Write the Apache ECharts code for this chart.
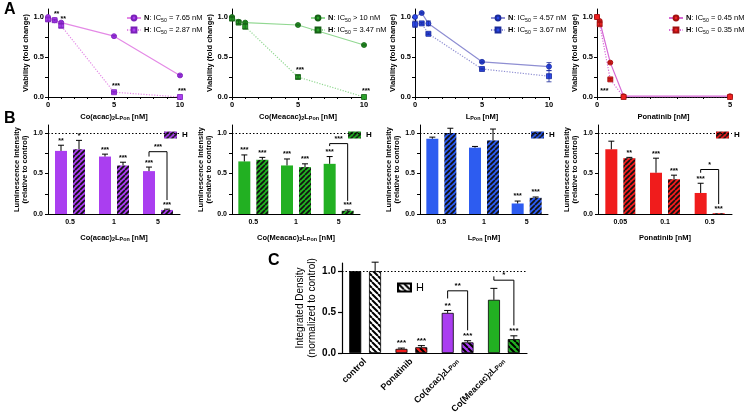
<!DOCTYPE html>
<html><head><meta charset="utf-8">
<script src="https://cdn.jsdelivr.net/npm/echarts@6/dist/echarts.min.js"></script>
<style>html,body{margin:0;padding:0;background:#fff}#c{width:754px;height:417px}</style>
</head><body><div id="c"></div>
<script>
// ================= DATA =================
// Panel A (viability curves)
const A1_x = [0, 0.5, 1, 5, 10];
const A1_N = [1.00, 0.96, 0.93, 0.76, 0.27];
const A1_H = [0.97, 0.96, 0.89, 0.06, 0.00];
const A1_Nerr = [0, 0, 0.01, 0.01, 0.01];
const A1_Herr = [0.02, 0.01, 0.02, 0.01, 0];
const A1_stars = ['', '**', '**', '***', '***'];
const A1_ic = ['= 7.65 nM', '= 2.87 nM'];

const A2_x = [0, 0.5, 1, 5, 10];
const A2_N = [1.00, 0.94, 0.93, 0.90, 0.65];
const A2_H = [0.98, 0.93, 0.88, 0.25, 0.00];
const A2_Nerr = [0.01, 0.02, 0.01, 0.01, 0.01];
const A2_Herr = [0.02, 0.02, 0.03, 0.02, 0];
const A2_stars = ['', '', '', '***', '***'];
const A2_ic = ['> 10 nM', '= 3.47 nM'];

const A3_x = [0, 0.5, 1, 5, 10];
const A3_N = [1.00, 1.05, 0.92, 0.44, 0.38];
const A3_H = [0.91, 0.92, 0.79, 0.35, 0.26];
const A3_Nerr = [0, 0.01, 0.03, 0.01, 0.05];
const A3_Herr = [0.04, 0.01, 0.01, 0.01, 0.07];
const A3_stars = ['', '', '', '', ''];
const A3_ic = ['= 4.57 nM', '= 3.67 nM'];

const A4_x = [0, 0.1, 0.5, 1, 5];
const A4_N = [1.00, 0.95, 0.43, 0.01, 0.01];
const A4_H = [1.00, 0.91, 0.22, 0.00, 0.00];
const A4_Nerr = [0, 0.01, 0.01, 0, 0];
const A4_Herr = [0, 0.02, 0.01, 0, 0];
const A4_stars = ['', '', '***', '', ''];
const A4_ic = ['= 0.45 nM', '= 0.35 nM'];

// Panel B (luminescence bars)
const B1_cats = ['0.5', '1', '5'];
const B1_N = [0.78, 0.71, 0.53];   const B1_Nerr = [0.07, 0.03, 0.05];
const B1_H = [0.80, 0.60, 0.05];   const B1_Herr = [0.11, 0.04, 0.01];
const B1_Nstars = ['**', '***', '***'];  const B1_Hstars = ['*', '***', '***'];
const B1_brackets = [{cat: 2, top: 0.77, label: '***'}];

const B2_cats = ['0.5', '1', '5'];
const B2_N = [0.65, 0.60, 0.62];   const B2_Nerr = [0.08, 0.08, 0.09];
const B2_H = [0.67, 0.58, 0.04];   const B2_Herr = [0.03, 0.04, 0.01];
const B2_Nstars = ['***', '***', '***'];  const B2_Hstars = ['***', '***', '***'];
const B2_brackets = [{cat: 2, top: 0.87, label: '***'}];

const B3_cats = ['0.5', '1', '5'];
const B3_N = [0.93, 0.82, 0.13];   const B3_Nerr = [0.02, 0.015, 0.03];
const B3_H = [1.00, 0.91, 0.20];   const B3_Herr = [0.06, 0.14, 0.01];
const B3_Nstars = ['', '', '***'];  const B3_Hstars = ['', '', '***'];
const B3_brackets = [];

const B4_cats = ['0.05', '0.1', '0.5'];
const B4_N = [0.80, 0.51, 0.26];   const B4_Nerr = [0.10, 0.18, 0.12];
const B4_H = [0.69, 0.43, 0.01];   const B4_Herr = [0.01, 0.05, 0];
const B4_Nstars = ['', '***', '***'];  const B4_Hstars = ['**', '***', '***'];
const B4_brackets = [{cat: 2, top: 0.55, label: '*'}];

// Panel C (integrated density)
const C_cats = ['control', 'Ponatinib', 'Co(acac){s|2}L{s|Pon}', 'Co(Meacac){s|2}L{s|Pon}'];
const C_N = [1.00, 0.05, 0.49, 0.65];  const C_Nerr = [0, 0.01, 0.03, 0.14];
const C_H = [1.00, 0.07, 0.13, 0.17];  const C_Herr = [0.11, 0.02, 0.02, 0.04];
const C_Nstars = ['', '***', '**', ''];  const C_Hstars = ['', '***', '***', '***'];
const C_brackets = [{cat: 2, top: 0.76, label: '**'}, {cat: 3, top: 0.89, label: '*'}];

// ================= STYLE / BUILD =================
const FONT = '"Liberation Sans", Arial, Helvetica, sans-serif';
const VIOLET = '#aa3ef0', GREEN = '#22b022', BLUE = '#2d5cf0', RED = '#f01c1c';

function hatch(base, stripe, dir, s, lw) {
  const c = document.createElement('canvas'); c.width = s; c.height = s;
  const g = c.getContext('2d');
  g.fillStyle = base; g.fillRect(0, 0, s, s);
  g.strokeStyle = stripe; g.lineWidth = lw; g.beginPath();
  for (let k = -1; k <= 1; k++) {
    if (dir > 0) { g.moveTo(k * s, s); g.lineTo(k * s + s, 0); }
    else { g.moveTo(k * s, 0); g.lineTo(k * s + s, s); }
  }
  g.stroke();
  return {image: c, repeat: 'repeat'};
}

const grid = [], xAxis = [], yAxis = [], series = [], legend = [], graphic = [];
const tx = (size, bold) => ({fontFamily: FONT, fontSize: size, fontWeight: bold ? 'bold' : 'normal', color: '#000'});
const subRich = (size) => ({s: {fontFamily: FONT, fontSize: size * 0.72, fontWeight: 'bold', color: '#000', verticalAlign: 'bottom', lineHeight: size * 0.8}});
const zip = (a, b) => a.map((v, i) => [v, b[i]]);

function addA(cfg) {
  const g = grid.length;
  grid.push({left: cfg.left, top: 9, width: cfg.width, height: 88});
  xAxis.push({gridIndex: g, type: 'value', min: 0, max: cfg.xmax, interval: 5,
    axisLine: {lineStyle: {color: '#000', width: 1}}, axisTick: {length: 3, lineStyle: {color: '#000'}},
    minorTick: {show: true, splitNumber: 5, length: 2, lineStyle: {color: '#000'}},
    splitLine: {show: false}, minorSplitLine: {show: false},
    axisLabel: Object.assign(tx(7.5, true), {margin: 4}),
    name: cfg.xName, nameLocation: 'middle', nameGap: 15,
    nameTextStyle: Object.assign(tx(7.5, true), {rich: subRich(7.5), lineHeight: 9})});
  yAxis.push({gridIndex: g, type: 'value', min: 0, max: 1.1,
    axisLine: {show: true, lineStyle: {color: '#000', width: 1}},
    axisTick: {show: true, length: 3, customValues: [0, 0.25, 0.5, 0.75, 1], lineStyle: {color: '#000'}},
    splitLine: {show: false},
    axisLabel: Object.assign(tx(7.5, true), {margin: 4, customValues: [0, 0.5, 1], formatter: v => v.toFixed(1)}),
    name: 'Viability (fold change)', nameLocation: 'middle', nameGap: 13,
    nameTextStyle: tx(7.5, true)});
  const nName = 'A' + g + 'N', hName = 'A' + g + 'H';
  series.push({type: 'line', name: nName, xAxisIndex: g, yAxisIndex: g, data: zip(cfg.x, cfg.N),
    symbol: 'circle', symbolSize: 5, z: 3,
    lineStyle: {color: cfg.line, width: 1.2},
    itemStyle: {color: cfg.mark, borderColor: cfg.border, borderWidth: 0.8}});
  series.push({type: 'line', name: hName, xAxisIndex: g, yAxisIndex: g, data: zip(cfg.x, cfg.H),
    symbol: 'rect', symbolSize: 5, z: 3,
    lineStyle: {color: cfg.line, width: 1.2, type: [1.2, 1.5]},
    itemStyle: {color: cfg.mark, borderColor: cfg.border, borderWidth: 0.8}});
  // error bars + stars
  const data = [];
  cfg.x.forEach((xv, i) => { data.push([xv, cfg.N[i], cfg.Nerr[i], 0, i]); data.push([xv, cfg.H[i], cfg.Herr[i], 1, i]); });
  series.push({type: 'custom', xAxisIndex: g, yAxisIndex: g, z: 4, silent: true, data, encode: {x: 0, y: 1},
    renderItem(p, api) {
      const xv = api.value(0), v = api.value(1), e = api.value(2), side = api.value(3), idx = api.value(4);
      const c = api.coord([xv, v]), hi = api.coord([xv, v + e]), lo = api.coord([xv, Math.max(0, v - e)]);
      const ch = [];
      if (e > 0) {
        ch.push({type: 'line', shape: {x1: c[0], y1: lo[1], x2: c[0], y2: hi[1]}, style: {stroke: cfg.border, lineWidth: 0.8}});
        ch.push({type: 'line', shape: {x1: c[0] - 2.5, y1: hi[1], x2: c[0] + 2.5, y2: hi[1]}, style: {stroke: cfg.border, lineWidth: 0.8}});
        ch.push({type: 'line', shape: {x1: c[0] - 2.5, y1: lo[1], x2: c[0] + 2.5, y2: lo[1]}, style: {stroke: cfg.border, lineWidth: 0.8}});
      }
      const s = side === 1 ? cfg.stars[idx] : '';
      if (s) {
        ch.push({type: 'text', x: c[0] + (cfg.below ? -6 : 2), y: cfg.below ? c[1] + 8 : hi[1] - 2,
          style: {text: s, fontFamily: FONT, fontSize: 7, fontWeight: 'bold', fill: '#000', align: 'center', verticalAlign: cfg.below ? 'top' : 'bottom'}});
      }
      return {type: 'group', children: ch};
    }});
  legend.push({left: cfg.legendLeft, top: 8, orient: 'vertical', itemGap: 2, itemWidth: 14, itemHeight: 6,
    data: [nName, hName], selectedMode: false,
    formatter: n => (n === nName ? '{b|N}: IC{s|50} ' + cfg.ic[0] : '{b|H}: IC{s|50} ' + cfg.ic[1]),
    textStyle: Object.assign(tx(7.5, false), {padding: [0, 0, 0, -2], lineHeight: 10,
      rich: {b: tx(7.5, true), s: {fontFamily: FONT, fontSize: 5.2, color: '#000', verticalAlign: 'bottom', lineHeight: 6}}})});
}

function barDecor(g, d, off, starSize, capW) {
  const data = [];
  d.N.forEach((v, i) => data.push([i, v, d.Nerr[i], 0]));
  d.H.forEach((v, i) => data.push([i, v, d.Herr[i], 1]));
  return {type: 'custom', xAxisIndex: g, yAxisIndex: g, z: 5, silent: true, data, encode: {x: 0, y: 1},
    renderItem(p, api) {
      const cat = api.value(0), v = api.value(1), e = api.value(2), side = api.value(3);
      const base = api.coord([cat, v]), top = api.coord([cat, v + e]);
      const x = base[0] + (side ? off : -off);
      const ch = [];
      if (e > 0) {
        ch.push({type: 'line', shape: {x1: x, y1: base[1], x2: x, y2: top[1]}, style: {stroke: '#000', lineWidth: 1}});
        ch.push({type: 'line', shape: {x1: x - capW, y1: top[1], x2: x + capW, y2: top[1]}, style: {stroke: '#000', lineWidth: 1}});
      }
      const s = (side ? d.Hstars : d.Nstars)[cat];
      if (s) ch.push({type: 'text', x: x, y: top[1] - 1,
        style: {text: s, fontFamily: FONT, fontSize: starSize, fontWeight: 'bold', fill: '#000', align: 'center', verticalAlign: 'bottom'}});
      if (side === 1) {
        d.brackets.filter(b => b.cat === cat).forEach(b => {
          const xl = x - 2 * off, xr = x;
          const nTop = api.coord([cat, d.N[cat] + d.Nerr[cat]])[1];
          const yt = api.coord([cat, b.top])[1];
          const yl = nTop - starSize * 1.5, yr = top[1] - starSize * 1.3;
          ch.push({type: 'polyline', shape: {points: [[xl, yl], [xl, yt], [xr, yt], [xr, yr]]}, style: {stroke: '#000', lineWidth: 1, fill: null}});
          ch.push({type: 'text', x: (xl + xr) / 2, y: yt - 1,
            style: {text: b.label, fontFamily: FONT, fontSize: starSize, fontWeight: 'bold', fill: '#000', align: 'center', verticalAlign: 'bottom'}});
        });
      }
      return {type: 'group', children: ch};
    }};
}

function addB(cfg) {
  const g = grid.length;
  grid.push({left: cfg.left, top: 125, width: cfg.width, height: 89});
  xAxis.push({gridIndex: g, type: 'category', data: cfg.d.cats,
    axisLine: {lineStyle: {color: '#000', width: 1}}, axisTick: {alignWithLabel: true, length: 3, lineStyle: {color: '#000'}},
    axisLabel: Object.assign(tx(7, true), {margin: 5}),
    name: cfg.xName, nameLocation: 'middle', nameGap: 19,
    nameTextStyle: Object.assign(tx(7.5, true), {rich: subRich(7.5), lineHeight: 9})});
  yAxis.push({gridIndex: g, type: 'value', min: 0, max: 1.1,
    axisLine: {show: true, lineStyle: {color: '#000', width: 1}},
    axisTick: {show: true, length: 3, customValues: [0, 0.25, 0.5, 0.75, 1], lineStyle: {color: '#000'}},
    splitLine: {show: false},
    axisLabel: Object.assign(tx(7, true), {margin: 5, customValues: [0, 0.5, 1], formatter: v => v.toFixed(1)}),
    name: 'Luminescence Intensity\n(relative to control)', nameLocation: 'middle', nameGap: 19,
    nameTextStyle: Object.assign(tx(7.5, true), {lineHeight: 8})});
  const hName = 'B' + g + 'H';
  series.push({type: 'bar', name: 'B' + g + 'N', xAxisIndex: g, yAxisIndex: g, data: cfg.d.N, barWidth: 12, barGap: '50%',
    itemStyle: {color: cfg.color},
    markLine: {silent: true, symbol: 'none', animation: false, label: {show: false},
      lineStyle: {type: [1.5, 2], color: '#000', width: 1}, data: [{yAxis: 1}]}});
  series.push({type: 'bar', name: hName, xAxisIndex: g, yAxisIndex: g, data: cfg.d.H, barWidth: 12, barGap: '50%',
    itemStyle: {color: hatch(cfg.color, '#111', 1, 5, 1.7)}});
  series.push(barDecor(g, cfg.d, 9, 7, 3));
  legend.push({left: cfg.legendLeft, top: 126, itemWidth: 13, itemHeight: 7, itemGap: 2, data: [hName], selectedMode: false,
    icon: 'rect', formatter: () => 'H', textStyle: Object.assign(tx(8, true), {padding: [0, 0, 0, 0]})});
}

addA({left: 48, width: 132, xmax: 10, xName: 'Co(acac){s|2}L{s|Pon} [nM]', x: A1_x, N: A1_N, H: A1_H, Nerr: A1_Nerr, Herr: A1_Herr,
  stars: A1_stars, ic: A1_ic, line: '#e48ae6', mark: VIOLET, border: '#7a20b8', legendLeft: 121});
addA({left: 232, width: 132, xmax: 10, xName: 'Co(Meacac){s|2}L{s|Pon} [nM]', x: A2_x, N: A2_N, H: A2_H, Nerr: A2_Nerr, Herr: A2_Herr,
  stars: A2_stars, ic: A2_ic, line: '#92d892', mark: '#2aa02a', border: '#156015', legendLeft: 305});
addA({left: 415, width: 134, xmax: 10, xName: 'L{s|Pon} [nM]', x: A3_x, N: A3_N, H: A3_H, Nerr: A3_Nerr, Herr: A3_Herr,
  stars: A3_stars, ic: A3_ic, line: '#8e8ed2', mark: '#2c4ae8', border: '#1a2a9a', legendLeft: 485});
addA({left: 597, width: 133, xmax: 5, xName: 'Ponatinib [nM]', x: A4_x, N: A4_N, H: A4_H, Nerr: A4_Nerr, Herr: A4_Herr,
  stars: A4_stars, below: true, ic: A4_ic, line: '#d66ad6', mark: '#ee2020', border: '#a01010', legendLeft: 663});

addB({left: 48, width: 132, xName: 'Co(acac){s|2}L{s|Pon} [nM]', color: VIOLET, legendLeft: 159,
  d: {cats: B1_cats, N: B1_N, Nerr: B1_Nerr, H: B1_H, Herr: B1_Herr, Nstars: B1_Nstars, Hstars: B1_Hstars, brackets: B1_brackets}});
addB({left: 232, width: 128, xName: 'Co(Meacac){s|2}L{s|Pon} [nM]', color: GREEN, legendLeft: 343,
  d: {cats: B2_cats, N: B2_N, Nerr: B2_Nerr, H: B2_H, Herr: B2_Herr, Nstars: B2_Nstars, Hstars: B2_Hstars, brackets: B2_brackets}});
addB({left: 420, width: 128, xName: 'L{s|Pon} [nM]', color: BLUE, legendLeft: 526,
  d: {cats: B3_cats, N: B3_N, Nerr: B3_Nerr, H: B3_H, Herr: B3_Herr, Nstars: B3_Nstars, Hstars: B3_Hstars, brackets: B3_brackets}});
addB({left: 598, width: 134, xName: 'Ponatinib [nM]', color: RED, legendLeft: 711,
  d: {cats: B4_cats, N: B4_N, Nerr: B4_Nerr, H: B4_H, Herr: B4_Herr, Nstars: B4_Nstars, Hstars: B4_Hstars, brackets: B4_brackets}});

// Panel C
(function () {
  const g = grid.length;
  grid.push({left: 342, top: 263, width: 185, height: 90});
  xAxis.push({gridIndex: g, type: 'category', data: C_cats,
    axisLine: {lineStyle: {color: '#000', width: 1.2}}, axisTick: {alignWithLabel: true, length: 4, lineStyle: {color: '#000', width: 1.2}},
    axisLabel: Object.assign(tx(9, true), {rotate: 45, margin: 7, rich: {s: {fontFamily: FONT, fontSize: 6.5, fontWeight: 'bold', color: '#000', verticalAlign: 'bottom', lineHeight: 7}}})});
  yAxis.push({gridIndex: g, type: 'value', min: 0, max: 1.1,
    axisLine: {show: true, lineStyle: {color: '#000', width: 1.2}},
    axisTick: {show: true, length: 4, customValues: [0, 0.5, 1], lineStyle: {color: '#000', width: 1.2}},
    splitLine: {show: false},
    axisLabel: Object.assign(tx(10, true), {margin: 6, customValues: [0, 0.5, 1], formatter: v => v.toFixed(1)}),
    name: 'Integrated Density\n(normalized to control)', nameLocation: 'middle', nameGap: 22,
    nameTextStyle: Object.assign(tx(10, false), {lineHeight: 12})});
  const nCols = ['#000000', RED, VIOLET, GREEN];
  const hBase = ['#ffffff', RED, VIOLET, GREEN];
  series.push({type: 'bar', name: 'CN', xAxisIndex: g, yAxisIndex: g, barWidth: 12, barGap: '65%',
    data: C_N.map((v, i) => ({value: v, itemStyle: {color: nCols[i]}})),
    itemStyle: {borderColor: '#000', borderWidth: 0.8},
    markLine: {silent: true, symbol: 'none', animation: false, label: {show: false},
      lineStyle: {type: [1.5, 2], color: '#000', width: 1}, data: [{yAxis: 1}]}});
  series.push({type: 'bar', name: 'CH', xAxisIndex: g, yAxisIndex: g, barWidth: 12, barGap: '65%',
    data: C_H.map((v, i) => ({value: v, itemStyle: {color: hatch(hBase[i], '#000', -1, 6, 2)}})),
    itemStyle: {color: hatch('#ffffff', '#000', -1, 6, 2), borderColor: '#000', borderWidth: 0.8}});
  series.push(barDecor(g, {N: C_N, Nerr: C_Nerr, H: C_H, Herr: C_Herr, Nstars: C_Nstars, Hstars: C_Hstars, brackets: C_brackets}, 10, 8, 3.5));
  legend.push({left: 392, top: 277, itemWidth: 13, itemHeight: 8, data: ['CH'], selectedMode: false, icon: 'rect',
    formatter: () => 'H', textStyle: tx(11, false)});
})();

graphic.push({type: 'text', left: 4, top: 2, style: {text: 'A', fontFamily: FONT, fontSize: 16, fontWeight: 'bold', fill: '#000'}});
graphic.push({type: 'text', left: 4, top: 111, style: {text: 'B', fontFamily: FONT, fontSize: 16, fontWeight: 'bold', fill: '#000'}});
graphic.push({type: 'text', left: 268, top: 253, style: {text: 'C', fontFamily: FONT, fontSize: 16, fontWeight: 'bold', fill: '#000'}});

const chart = echarts.init(document.getElementById('c'));
chart.setOption({animation: false, backgroundColor: '#fff', textStyle: {fontFamily: FONT},
  grid, xAxis, yAxis, series, legend, graphic});
</script></body></html>
